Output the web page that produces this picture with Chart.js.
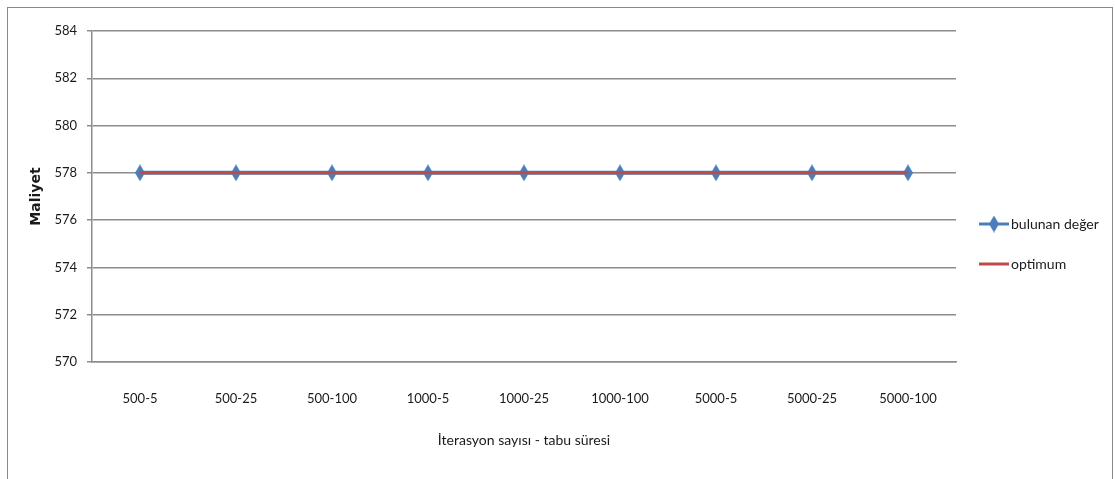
<!DOCTYPE html>
<html>
<head>
<meta charset="utf-8">
<script src="https://cdn.jsdelivr.net/npm/chart.js"></script>
<style>
  html, body { margin: 0; padding: 0; background: #fff; }
  #wrap { width: 1115px; height: 479px; }
</style>
</head>
<body>
<div id="wrap"><canvas id="line-chart" width="1115" height="479"></canvas></div>
<script>
// ---------------------------------------------------
// DATA
// ---------------------------------------------------
const categories = [ '500-5', '500-25', '500-100', '1000-5', '1000-25', '1000-100', '5000-5', '5000-25', '5000-100' ];
const bulunanDeger = [ 578, 578, 578, 578, 578, 578, 578, 578, 578 ];
const optimum = [ 578, 578, 578, 578, 578, 578, 578, 578, 578 ];
const seriesNames = [ 'bulunan değer', 'optimum' ];
const yTicks = [ 570, 572, 574, 576, 578, 580, 582, 584 ];
// ---------------------------------------------------
const FONT = 'Lato, "Liberation Sans", Arial, sans-serif';
const BLUE = '#4a7ebb';
const RED = '#be4b48';
const GRID = '#8c8c8c';
const TEXT = '#1a1a1a';

// tall narrow diamond marker like the original
function makeDiamond( w, h, color ) {
    const c = document.createElement( 'canvas' );
    c.width = w; c.height = h;
    const g = c.getContext( '2d' );
    g.fillStyle = color;
    g.beginPath();
    g.moveTo( w / 2, 0 );
    g.lineTo( w, h / 2 );
    g.lineTo( w / 2, h );
    g.lineTo( 0, h / 2 );
    g.closePath();
    g.fill();
    return c;
}
const diamond = makeDiamond( 10, 17, BLUE );

// frame round the whole chart
const framePlugin = {
    id: 'frame',
    beforeDraw( chart ) {
        const ctx = chart.ctx;
        ctx.save();
        ctx.fillStyle = '#fff';
        ctx.fillRect( 0, 0, chart.width, chart.height );
        ctx.strokeStyle = '#8a8a8a';
        ctx.lineWidth = 1;
        ctx.strokeRect( 7.5, 7.5, 1105, 520 );
        ctx.restore();
    }
};

// legend on the right: line + marker + label
const sideLegend = {
    id: 'sideLegend',
    afterDraw( chart ) {
        const ctx = chart.ctx;
        const x0 = 979, x1 = 1009;
        const rows = [ 224, 264 ];
        ctx.save();
        chart.data.datasets.forEach( function ( ds, i ) {
            const y = rows[ i ];
            ctx.strokeStyle = ds.borderColor;
            ctx.lineWidth = 3;
            ctx.beginPath();
            ctx.moveTo( x0, y );
            ctx.lineTo( x1, y );
            ctx.stroke();
            if ( ds.pointStyle instanceof HTMLCanvasElement ) {
                ctx.drawImage( ds.pointStyle, ( x0 + x1 ) / 2 - 5, y - 8.5 );
            }
            ctx.fillStyle = TEXT;
            ctx.font = '14px ' + FONT;
            ctx.textBaseline = 'middle';
            ctx.fillText( ds.label, x1 + 2, y );
        });
        ctx.restore();
    }
};

const plotLineChart = document.querySelector( '#line-chart' );
const lineChart = new Chart( plotLineChart, {
    type: 'line',
    data: {
        labels: categories,
        datasets: [
            {
                label: seriesNames[ 0 ],
                data: bulunanDeger,
                borderColor: BLUE,
                backgroundColor: BLUE,
                borderWidth: 4,
                pointStyle: diamond,
                pointRadius: 8,
                pointHoverRadius: 8,
                order: 1
            },
            {
                label: seriesNames[ 1 ],
                data: optimum,
                borderColor: RED,
                backgroundColor: RED,
                borderWidth: 3,
                pointRadius: 0,
                order: 0
            }
        ]
    },
    options: {
        responsive: false,
        animation: false,
        layout: { padding: { left: 0, top: 31, right: 159, bottom: 0 } },
        plugins: {
            legend: { display: false },
            tooltip: { enabled: false }
        },
        scales: {
            x: {
                offset: true,
                grid: { display: false, drawTicks: false },
                border: { display: true, color: GRID, width: 1.5 },
                ticks: { color: TEXT, padding: 29, font: { family: FONT, size: 13 } },
                title: {
                    display: true,
                    text: 'İterasyon sayısı - tabu süresi',
                    color: TEXT,
                    font: { family: FONT, size: 14 },
                    padding: { top: 0, bottom: 30 }
                },
                afterFit: function ( scale ) { scale.height = 117; }
            },
            y: {
                min: yTicks[ 0 ],
                max: yTicks[ yTicks.length - 1 ],
                afterBuildTicks: function ( scale ) {
                    scale.ticks = yTicks.map( function ( v ) { return { value: v }; } );
                },
                grid: { color: GRID, lineWidth: 1.5, tickLength: 5, drawTicks: true },
                border: { display: true, color: GRID, width: 1.5 },
                ticks: { color: TEXT, padding: 10, font: { family: FONT, size: 13 } },
                title: {
                    display: true,
                    text: 'Maliyet',
                    color: TEXT,
                    font: { family: '"DejaVu Sans", sans-serif', size: 14, weight: 'bold' },
                    padding: { top: 28, bottom: 0 }
                },
                afterFit: function ( scale ) { scale.width = 92; }
            }
        }
    },
    plugins: [ framePlugin, sideLegend ]
});
// ---------------------------------------------------
</script>
</body>
</html>
